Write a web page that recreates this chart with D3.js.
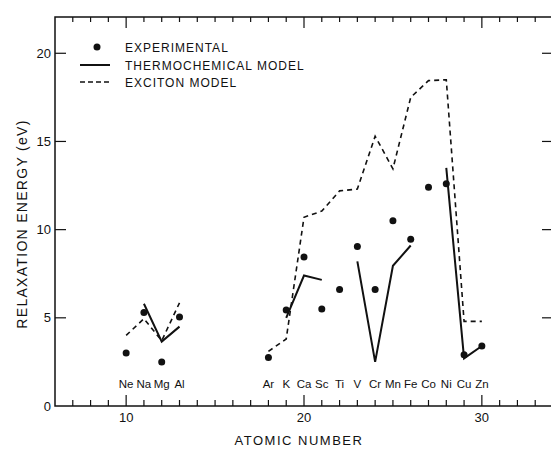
<!DOCTYPE html>
<html>
<head>
<style>
  body { margin: 0; background: #fff; }
  svg text { font-family: "Liberation Sans", Arial, sans-serif; fill: #111; }
  .lbl { font-size: 12px; letter-spacing: 1px; }
  .el { font-size: 11.5px; text-anchor: middle; }
  .tick text { font-size: 13px; }
</style>
<script src="https://cdn.jsdelivr.net/npm/d3@7"></script>
</head>
<body>
<svg width="551" height="449"></svg>
<script>
// element labels along the bottom
const elements = ["Ne", "Na", "Mg", "Al", "Ar", "K", "Ca", "Sc", "Ti", "V", "Cr", "Mn", "Fe", "Co", "Ni", "Cu", "Zn"];
const atomicNumbers = [10, 11, 12, 13, 18, 19, 20, 21, 22, 23, 24, 25, 26, 27, 28, 29, 30];
// experimental points (eV)
const experimental = [3.0, 5.3, 2.5, 5.05, 2.75, 5.45, 8.45, 5.5, 6.6, 9.05, 6.6, 10.5, 9.45, 12.4, 12.6, 2.9, 3.4];

// thermochemical model, broken into segments
const thermoZ = [[11, 12, 13], [19, 20, 21], [23, 24, 25, 26], [28, 29, 30]];
const thermoE = [[5.8, 3.65, 4.5], [5.0, 7.4, 7.15], [8.2, 2.5, 7.95, 9.1], [13.5, 2.7, 3.4]];

// exciton model segments
const excitonZ = [[10, 11, 12, 13], [18, 19, 20, 21, 22, 23, 24, 25, 26, 27, 28, 29, 30]];
const excitonE = [[4.0, 4.95, 3.7, 5.85], [3.1, 3.8, 10.7, 11.05, 12.2, 12.3, 15.3, 13.45, 17.5, 18.45, 18.5, 4.8, 4.8]];

const yTicks = [0, 5, 10, 15, 20];
const xTicks = [10, 20, 30];
const legendItems = ["EXPERIMENTAL", "THERMOCHEMICAL MODEL", "EXCITON MODEL"];

const svg = d3.select("svg");
const pL = 55, pR = 553, pT = 17, pB = 406;

const x = d3.scaleLinear().domain([6, 34]).range([pL, pR]);
const y = d3.scaleLinear().domain([0, 22]).range([pB, pT + 1]);

// frame
svg.append("rect")
    .attr("x", pL).attr("y", pT)
    .attr("width", pR - pL).attr("height", pB - pT)
    .attr("fill", "none").attr("stroke", "#111").attr("stroke-width", 1.5);

// minor/major ticks along bottom and top
const intTicks = d3.range(7, 34);
const isMajor = d => d % 10 === 0;

svg.append("g").selectAll("line").data(intTicks).join("line")
    .attr("x1", d => x(d)).attr("x2", d => x(d))
    .attr("y1", pB).attr("y2", d => pB - (isMajor(d) ? 11 : 6))
    .attr("stroke", "#111").attr("stroke-width", 1.2);

svg.append("g").selectAll("line").data(intTicks).join("line")
    .attr("x1", d => x(d)).attr("x2", d => x(d))
    .attr("y1", pT).attr("y2", d => pT + (isMajor(d) ? 11 : 5))
    .attr("stroke", "#111").attr("stroke-width", 1.2);

// bottom tick labels
svg.append("g").attr("class", "tick").selectAll("text").data(xTicks).join("text")
    .attr("x", d => x(d)).attr("y", 422)
    .attr("text-anchor", "middle")
    .text(d => d);

// left + right ticks
const yInner = yTicks.filter(d => d > 0);
svg.append("g").selectAll("line").data(yInner).join("line")
    .attr("x1", pL).attr("x2", pL + 11)
    .attr("y1", d => y(d)).attr("y2", d => y(d))
    .attr("stroke", "#111").attr("stroke-width", 1.2);
svg.append("g").selectAll("line").data(yInner).join("line")
    .attr("x1", pR).attr("x2", pR - 11)
    .attr("y1", d => y(d)).attr("y2", d => y(d))
    .attr("stroke", "#111").attr("stroke-width", 1.2);

svg.append("g").attr("class", "tick").selectAll("text").data(yTicks).join("text")
    .attr("x", pL - 4).attr("y", d => y(d) + 4.5)
    .attr("text-anchor", "end")
    .text(d => d);

// axis titles
svg.append("text").attr("class", "lbl")
    .attr("x", 299).attr("y", 445)
    .attr("text-anchor", "middle")
    .style("font-size", "13px").style("letter-spacing", "1.5px")
    .text("ATOMIC NUMBER");

svg.append("text").attr("class", "lbl")
    .attr("transform", "translate(27,224) rotate(-90)")
    .attr("text-anchor", "middle")
    .style("font-size", "14px").style("letter-spacing", "1.3px")
    .text("RELAXATION ENERGY (eV)");

// element names
svg.append("g").selectAll("text").data(elements).join("text")
    .attr("class", "el")
    .attr("x", (d, i) => x(atomicNumbers[i]))
    .attr("y", 388)
    .text(d => d);

const line = d3.line().x(d => x(d[0])).y(d => y(d[1]));

// exciton model (dashed)
svg.append("g").selectAll("path").data(excitonZ.map((zs, i) => zs.map((z, j) => [z, excitonE[i][j]])))
    .join("path")
    .attr("d", line)
    .attr("fill", "none").attr("stroke", "#111")
    .attr("stroke-width", 1.6).attr("stroke-dasharray", "5,4");

// thermochemical model (solid)
svg.append("g").selectAll("path").data(thermoZ.map((zs, i) => zs.map((z, j) => [z, thermoE[i][j]])))
    .join("path")
    .attr("d", line)
    .attr("fill", "none").attr("stroke", "#111")
    .attr("stroke-width", 2);

// experimental dots
svg.append("g").selectAll("circle").data(experimental).join("circle")
    .attr("cx", (d, i) => x(atomicNumbers[i]))
    .attr("cy", d => y(d))
    .attr("r", 3.5)
    .attr("fill", "#111");

// legend
const lg = svg.append("g");
const rowY = [47, 65, 82];
lg.append("circle").attr("cx", 97).attr("cy", rowY[0]).attr("r", 3.5).attr("fill", "#111");
lg.append("line").attr("x1", 80).attr("x2", 110).attr("y1", rowY[1]).attr("y2", rowY[1])
    .attr("stroke", "#111").attr("stroke-width", 2);
lg.append("line").attr("x1", 80).attr("x2", 110).attr("y1", rowY[2]).attr("y2", rowY[2])
    .attr("stroke", "#111").attr("stroke-width", 1.6).attr("stroke-dasharray", "5,3");
lg.selectAll("text").data(legendItems).join("text")
    .attr("class", "lbl")
    .attr("x", 125).attr("y", (d, i) => rowY[i] + 4.5)
    .text(d => d);
</script>
</body>
</html>
